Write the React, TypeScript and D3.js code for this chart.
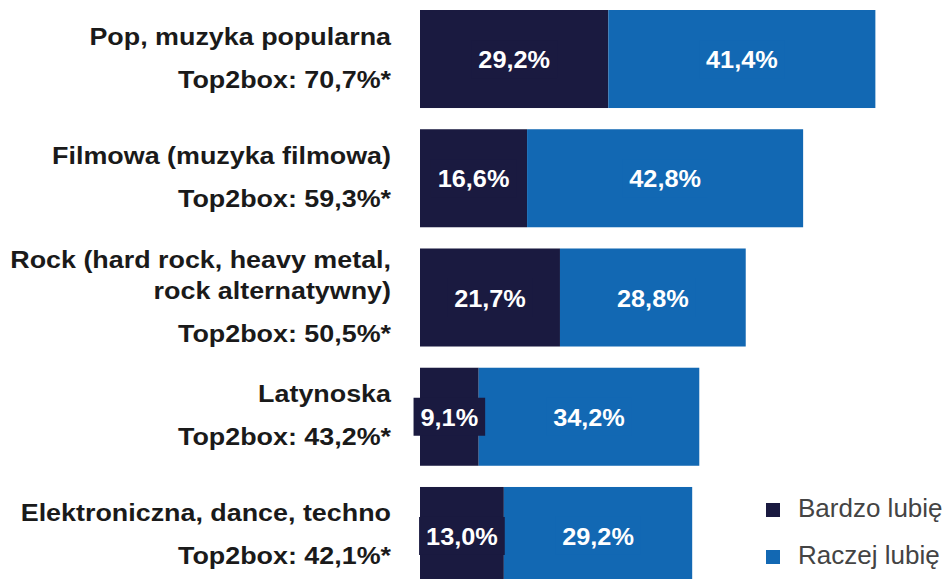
import React, { useEffect, useRef } from "react";
import * as d3 from "d3";

const categories: string[][] = [
  ["Pop, muzyka popularna"],
  ["Filmowa (muzyka filmowa)"],
  ["Rock (hard rock, heavy metal,", "rock alternatywny)"],
  ["Latynoska"],
  ["Elektroniczna, dance, techno"],
];
const top2box: number[] = [70.7, 59.3, 50.5, 43.2, 42.1];
const bardzo: number[] = [29.2, 16.6, 21.7, 9.1, 13.0];
const raczej: number[] = [41.4, 42.8, 28.8, 34.2, 29.2];
const seriesNames: string[] = ["Bardzo lubię", "Raczej lubię"];
const colors: string[] = ["#1a1a40", "#1268b3"];

const W = 950;
const H = 579;
const FONT = "'Liberation Sans', Arial, Helvetica, sans-serif";

const fmt = (v: number) => v.toFixed(1).replace(".", ",");

export default function App() {
  const ref = useRef<SVGSVGElement | null>(null);

  useEffect(() => {
    const svg = d3.select(ref.current);
    svg.selectAll("*").remove();

    const x = d3.scaleLinear().domain([0, 100]).range([420, 420 + 645]);
    const idx = categories.map((_, i) => String(i));
    const y = d3
      .scaleBand<string>()
      .domain(idx)
      .range([10, 585])
      .paddingInner(0.178)
      .paddingOuter(0);

    const g = svg.append("g");
    const VSX = 1.1;
    const LSX = 1.12;

    categories.forEach((cat, i) => {
      const y0 = y(String(i)) as number;
      const bw = y.bandwidth();
      const c = y0 + bw / 2;
      const segs = [
        { v0: 0, v1: bardzo[i], color: colors[0] },
        { v0: bardzo[i], v1: bardzo[i] + raczej[i], color: colors[1] },
      ];
      segs.forEach((s) => {
        g.append("rect")
          .attr("x", x(s.v0))
          .attr("y", y0)
          .attr("width", x(s.v1) - x(s.v0))
          .attr("height", bw)
          .attr("fill", s.color);
      });
      segs.forEach((s) => {
        const cx = (x(s.v0) + x(s.v1)) / 2;
        const lg = g.append("g").attr("transform", `translate(${cx},${c})`);
        const t = lg
          .append("text")
          .attr("x", 0)
          .attr("y", 9)
          .attr("transform", `scale(${VSX},1)`)
          .attr("text-anchor", "middle")
          .attr("fill", "#ffffff")
          .attr("font-family", FONT)
          .attr("font-weight", "bold")
          .attr("font-size", 23)
          .text(fmt(s.v1 - s.v0) + "%");
        const bb = (t.node() as SVGTextElement).getBBox();
        const tw = bb.width * VSX;
        lg.insert("rect", "text")
          .attr("x", -tw / 2 - 7)
          .attr("y", -19)
          .attr("width", tw + 14)
          .attr("height", 38)
          .attr("fill", s.color);
      });

      // category labels
      const lines = [...cat, "Top2box: " + fmt(top2box[i]) + "%*"];
      const n = cat.length;
      const blockH = (n - 1) * 31 + 43;
      const m = c + 7;
      let yy = m - blockH / 2;
      lines.forEach((ln, j) => {
        g.append("text")
          .attr("transform", `translate(391,${yy}) scale(${LSX},1)`)
          .attr("text-anchor", "end")
          .attr("fill", "#1a1a1a")
          .attr("font-family", FONT)
          .attr("font-weight", "bold")
          .attr("font-size", 24)
          .text(ln);
        yy += j < n - 1 ? 31 : 43;
      });
    });

    // legend
    const leg = svg.append("g");
    seriesNames.forEach((name, i) => {
      const ly = 503 + i * 47;
      leg.append("rect")
        .attr("x", 766)
        .attr("y", ly)
        .attr("width", 14)
        .attr("height", 14)
        .attr("fill", colors[i]);
      leg.append("text")
        .attr("x", 798)
        .attr("y", ly + 14)
        .attr("fill", "#444444")
        .attr("font-family", FONT)
        .attr("font-size", 26)
        .text(name);
    });
  }, []);

  return (
    <svg
      ref={ref}
      width={W}
      height={H}
      style={{ position: "absolute", left: 0, top: 0, background: "#ffffff" }}
    />
  );
}
